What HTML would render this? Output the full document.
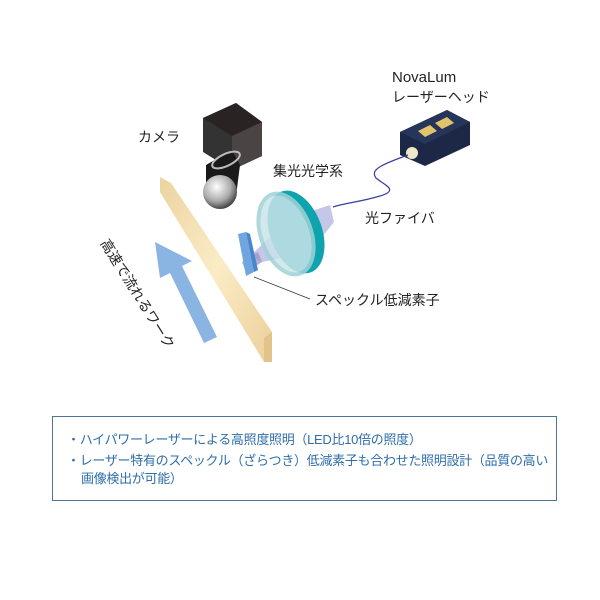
<!DOCTYPE html>
<html><head><meta charset="utf-8"><style>
body{margin:0;background:#fff;width:600px;height:600px;overflow:hidden;font-family:"Liberation Sans","Noto Sans CJK JP",sans-serif}
svg{position:absolute;left:0;top:0}
.box{position:absolute;left:52px;top:416px;width:505px;height:85px;border:1.5px solid #4d7396;box-sizing:border-box;color:#2f6ea8;font-size:13px;line-height:18px;padding:14px 0 0 14px;white-space:nowrap;letter-spacing:-0.3px}
.box div{padding-left:14px;text-indent:-14px;margin-bottom:3px}
</style></head><body>
<svg width="600" height="600" viewBox="0 0 600 600">
<defs>
<linearGradient id="wood" x1="0" y1="0" x2="1" y2="1">
<stop offset="0" stop-color="#ecd3a0"/><stop offset="0.5" stop-color="#fbecc6"/><stop offset="1" stop-color="#ebd09a"/></linearGradient>
<radialGradient id="sph" cx="0.4" cy="0.35" r="0.7"><stop offset="0" stop-color="#fff"/><stop offset="0.6" stop-color="#aaa"/><stop offset="1" stop-color="#333"/></radialGradient>
</defs>
<polygon points="160,177 171,183 272,332 272,362 264,362 160,192" fill="url(#wood)"/>
<polygon points="264,338 272,332 272,362 264,362" fill="#e2c48a"/>
<polygon points="155,242 192,261 182,266 217,337 204,343 170,273 160,278" fill="#8ab4e2"/>
<!-- camera -->
<polygon points="203,118 236,103 262,122 262,156 232,170 203,152" fill="#333"/>
<polygon points="203,118 236,103 262,122 232,136" fill="#2a2323"/>
<polygon points="232,136 262,122 262,156 232,170" fill="#4a4444"/>
<polygon points="206,165 232,150 240,165 236,196 206,196" fill="#1a1a1a"/>
<ellipse cx="226" cy="160" rx="15" ry="6" fill="none" stroke="#bbb" stroke-width="2" transform="rotate(-25 226 160)"/>
<circle cx="220" cy="192" r="17" fill="url(#sph)"/>
<!-- beam -->
<polygon points="330,205 334,222 310,252 262,262 250,256 290,218" fill="#b6b8e2" opacity="0.8"/>
<polygon points="242,262 258,252 262,262 246,272" fill="#9a9ac0" opacity="0.8"/>
<!-- speckle element -->
<polygon points="238,234 246,232 254,272 246,276" fill="#6fa6e0"/>
<polygon points="246,232 250,234 258,270 254,272" fill="#4a86cc"/>
<!-- lens -->
<ellipse cx="296" cy="232" rx="26" ry="43" fill="#0ea3ad" transform="rotate(-20 296 232)"/>
<ellipse cx="286" cy="234" rx="25" ry="42" fill="#c9e4ea" stroke="#9fd2d8" stroke-width="4" transform="rotate(-20 286 234)" opacity="0.85"/>
<!-- laser head -->
<polygon points="400,132 447,110 470,122 470,145 425,166 400,155" fill="#1d2846"/>
<polygon points="400,132 447,110 470,122 425,144" fill="#26355a"/>
<polygon points="418,131 430,125 437,131 425,137" fill="#e3c36a"/>
<polygon points="435,123 447,117 454,123 442,129" fill="#e3c36a"/>
<circle cx="412" cy="153" r="6" fill="#efe8c8"/>
<path d="M408,155 C380,165 370,170 376,178 C384,185 400,190 380,196 C360,202 345,203 333,207" fill="none" stroke="#3b3fa0" stroke-width="1.2"/>
<line x1="254" y1="277" x2="310" y2="299" stroke="#333" stroke-width="0.8"/>
<g font-size="14" fill="#222" font-family="Liberation Sans, Noto Sans CJK JP, sans-serif">
<text x="392" y="82" font-size="15">NovaLum</text>
<text x="392" y="102">レーザーヘッド</text>
<text x="138" y="142">カメラ</text>
<text x="273" y="176">集光光学系</text>
<text x="365" y="223">光ファイバ</text>
<text x="315" y="305">スペックル低減素子</text>
<text x="100" y="243" transform="rotate(58 100 243)">高速で流れるワーク</text>
</g>
</svg>
<div class="box"><div>・ハイパワーレーザーによる高照度照明（LED比10倍の照度）</div><div>・レーザー特有のスペックル（ざらつき）低減素子も合わせた照明設計（品質の高い<br>画像検出が可能）</div></div>
</body></html>
